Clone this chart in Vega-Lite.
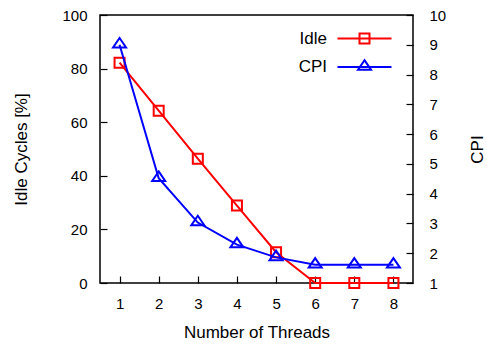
{
  "$schema": "https://vega.github.io/schema/vega-lite/v6.json",
  "width": 313,
  "height": 268,
  "autosize": "none",
  "padding": {"left": 100, "top": 15, "right": 74, "bottom": 62},
  "background": "white",
  "config": {
    "font": "Liberation Sans",
    "view": {"stroke": "black", "strokeWidth": 1.5},
    "axis": {
      "grid": false,
      "domain": false,
      "tickColor": "black",
      "tickSize": -7,
      "tickWidth": 1.2,
      "labelFont": "Liberation Sans",
      "labelFontSize": 15,
      "labelColor": "black",
      "titleFont": "Liberation Sans",
      "titleFontSize": 17,
      "titleFontWeight": "normal",
      "titleColor": "black"
    },
    "legend": {
      "orient": "none",
      "labelAlign": "right",
      "labelOffset": -46,
      "labelFontSize": 17,
      "labelFont": "Liberation Sans",
      "labelColor": "black",
      "symbolSize": 100,
      "symbolStrokeWidth": 2,
      "padding": 0
    }
  },
  "data": {
    "values": [
      {"threads": 1, "idle": 82.2, "cpi": 9.0},
      {"threads": 2, "idle": 64.3, "cpi": 4.52},
      {"threads": 3, "idle": 46.4, "cpi": 3.03},
      {"threads": 4, "idle": 28.9, "cpi": 2.29},
      {"threads": 5, "idle": 11.5, "cpi": 1.86},
      {"threads": 6, "idle": 0, "cpi": 1.61},
      {"threads": 7, "idle": 0, "cpi": 1.61},
      {"threads": 8, "idle": 0, "cpi": 1.61}
    ]
  },
  "layer": [
    {
      "encoding": {
        "x": {
          "field": "threads",
          "type": "quantitative",
          "scale": {"domain": [0.5, 8.5], "zero": false, "nice": false},
          "axis": {"values": [1, 2, 3, 4, 5, 6, 7, 8], "title": "Number of Threads", "labelPadding": 20, "titlePadding": 13}
        },
        "y": {
          "field": "idle",
          "type": "quantitative",
          "scale": {"domain": [0, 100]},
          "axis": {"orient": "left", "values": [0, 20, 40, 60, 80, 100], "title": "Idle Cycles [%]", "labelPadding": 20, "titlePadding": 31}
        },
        "color": {
          "datum": "Idle",
          "scale": {"domain": ["Idle"], "range": ["#ff0000"]},
          "legend": {
            "title": null,
            "legendX": 256,
            "legendY": 15,
            "symbolType": "M-5.4,0H5.4M-1,-1H1V1H-1Z"
          }
        }
      },
      "layer": [
        {"mark": {"type": "line", "strokeWidth": 2}},
        {"mark": {"type": "point", "size": 100, "strokeWidth": 2, "filled": false, "opacity": 1, "shape": "M-1,-1H1V1H-1Z"}}
      ]
    },
    {
      "encoding": {
        "x": {"field": "threads", "type": "quantitative", "scale": {"domain": [0.5, 8.5], "zero": false, "nice": false}},
        "y": {
          "field": "cpi",
          "type": "quantitative",
          "scale": {"domain": [1, 10]},
          "axis": {"orient": "right", "values": [1, 2, 3, 4, 5, 6, 7, 8, 9, 10], "title": "CPI", "labelPadding": 23, "titlePadding": 24, "titleAngle": -90, "titleBaseline": "top"}
        },
        "color": {
          "datum": "CPI",
          "scale": {"domain": ["CPI"], "range": ["#0000ff"]},
          "legend": {
            "title": null,
            "legendX": 256,
            "legendY": 43.4,
            "symbolType": "M-5.4,0H5.4M0,-1.35L1.3,0.55L-1.3,0.55Z"
          }
        }
      },
      "layer": [
        {"mark": {"type": "line", "strokeWidth": 2}},
        {"mark": {"type": "point", "size": 100, "strokeWidth": 2, "filled": false, "opacity": 1, "shape": "M0,-1.35L1.3,0.55L-1.3,0.55Z"}}
      ]
    }
  ],
  "resolve": {"scale": {"y": "independent", "color": "independent"}, "legend": {"color": "independent"}}
}
